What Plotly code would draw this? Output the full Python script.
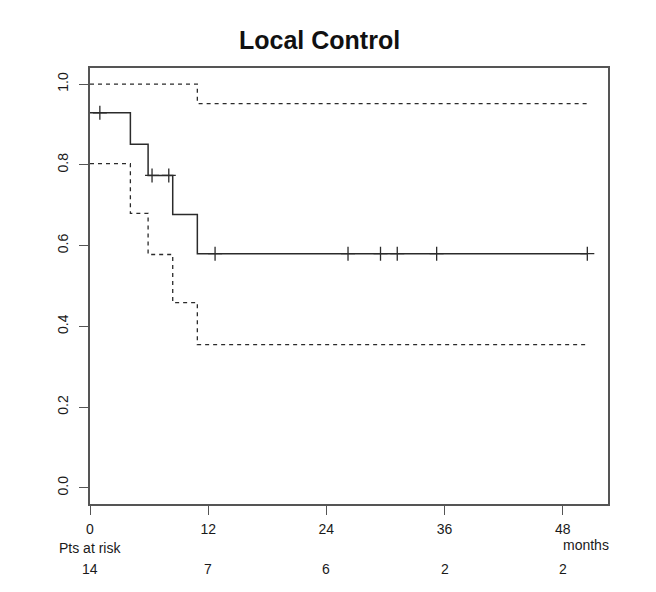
import numpy as np
import plotly.graph_objects as go

# Kaplan-Meier estimate (step points, months)
km_time = [0, 4.1, 5.9, 8.4, 10.9, 50.5]
km_surv = [0.929, 0.851, 0.774, 0.677, 0.580, 0.580]
ci_lower = [0.803, 0.680, 0.578, 0.459, 0.355, 0.355]
ci_upper = [1.0, 1.0, 1.0, 1.0, 0.952, 0.952]
censor_times = [1.0, 6.3, 8.0, 12.7, 26.2, 29.5, 31.2, 35.2, 50.5]

x_ticks = [0, 12, 24, 36, 48]
y_ticks = [0.0, 0.2, 0.4, 0.6, 0.8, 1.0]
risk_times = [0, 12, 24, 36, 48]
risk_counts = [14, 7, 6, 2, 2]

title_text = "Local Control"

# survival at censor times via step lookup
idx = np.searchsorted(km_time, censor_times, side="right") - 1
censor_surv = [km_surv[i] for i in idx]

LINE = "#2b2b2b"
FONT = "Liberation Sans, Arial, sans-serif"

fig = go.Figure()
fig.add_trace(go.Scatter(x=km_time, y=ci_upper, mode="lines", line_shape="hv",
                         line=dict(color=LINE, width=1.3, dash="4px,4px"), showlegend=False))
fig.add_trace(go.Scatter(x=km_time, y=ci_lower, mode="lines", line_shape="hv",
                         line=dict(color=LINE, width=1.3, dash="4px,4px"), showlegend=False))
fig.add_trace(go.Scatter(x=km_time, y=km_surv, mode="lines", line_shape="hv",
                         line=dict(color=LINE, width=1.5), showlegend=False))
fig.add_trace(go.Scatter(x=censor_times, y=censor_surv, mode="markers",
                         marker=dict(symbol="cross-thin", size=10, color=LINE,
                                     line=dict(color=LINE, width=1.3)),
                         showlegend=False))

annotations = [
    dict(text="<b>" + title_text + "</b>", xref="paper", yref="paper", x=0.444, y=1.064,
         xanchor="center", yanchor="middle", showarrow=False,
         font=dict(size=25, color="#111111", family=FONT)),
    dict(text="Pts at risk", xref="paper", yref="paper", x=-0.0637, y=-0.1009,
         xanchor="left", yanchor="middle", showarrow=False,
         font=dict(size=14, color="#1a1a1a", family=FONT)),
    dict(text="months", xref="paper", yref="paper", x=1.0058, y=-0.094,
         xanchor="right", yanchor="middle", showarrow=False,
         font=dict(size=14, color="#1a1a1a", family=FONT)),
]
for t, n in zip(risk_times, risk_counts):
    annotations.append(dict(text=str(n), xref="x", yref="paper", x=t, y=-0.149,
                            xanchor="center", yanchor="middle", showarrow=False,
                            font=dict(size=14, color="#1a1a1a", family=FONT)))

# page has an 8px body margin, so the figure is 8px smaller and margins shifted
fig.update_layout(
    width=648, height=584,
    margin=dict(l=82, r=48, t=60, b=88),
    paper_bgcolor="white", plot_bgcolor="white",
    font=dict(family=FONT, size=14, color="#1a1a1a"),
    annotations=annotations,
    xaxis=dict(range=[0, 52.6], tickvals=x_ticks, ticktext=[str(v) for v in x_ticks],
               showgrid=False, zeroline=False, showline=True, mirror=True,
               linecolor="#555555", linewidth=1.5, ticks="outside", ticklen=9,
               tickcolor="#555555", tickwidth=1.2, ticklabelstandoff=2,
               tickfont=dict(size=14)),
    yaxis=dict(range=[-0.04, 1.04], tickvals=y_ticks, ticktext=[f"{v:.1f}" for v in y_ticks],
               tickangle=-90, showgrid=False, zeroline=False, showline=True, mirror=True,
               linecolor="#555555", linewidth=1.5, ticks="outside", ticklen=9,
               tickcolor="#555555", tickwidth=1.2, ticklabelstandoff=6,
               tickfont=dict(size=14)),
)

fig.write_html("out.html")
